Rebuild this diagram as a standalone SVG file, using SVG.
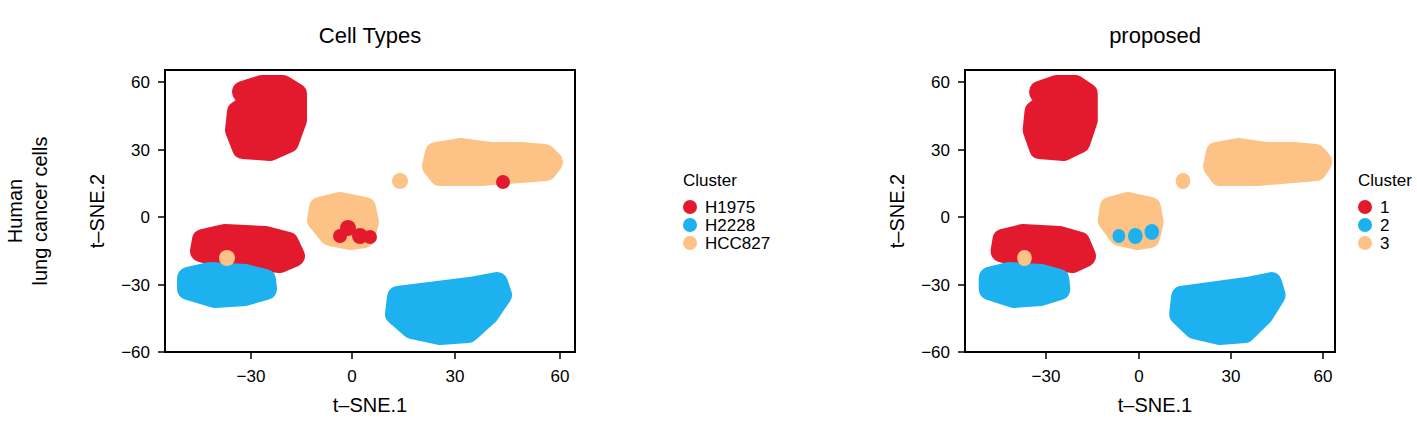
<svg xmlns="http://www.w3.org/2000/svg" xmlns:xlink="http://www.w3.org/1999/xlink" width="1417" height="423" viewBox="0 0 1417 423">
<style>
text{font-family:"Liberation Sans",Arial,sans-serif;fill:#000}
.t{font-size:22px;text-anchor:middle}
.k{font-size:17px}
.ax{font-size:20px;text-anchor:middle}
.box{fill:none;stroke:#000;stroke-width:2}
.tk{stroke:#000;stroke-width:1.5}
.r{fill:#E31A2E;stroke:#E31A2E;stroke-width:22;stroke-linejoin:round}
.b{fill:#1EB1F0;stroke:#1EB1F0;stroke-width:22;stroke-linejoin:round}
.o{fill:#FDC386;stroke:#FDC386;stroke-width:22;stroke-linejoin:round}
</style>
<defs>
<g id="base">
<polygon class="r" points="243,92 262,86 283,86 296,94 296,120 288,142 270,150 243,148 236,130 238,112 252,102"/>
<polygon class="o" points="436,153 460,149 490,153 520,153 545,155 552,162 546,170 520,172 480,175 440,175 433,166"/>
<circle cx="400" cy="181" r="8" fill="#FDC386"/>
<polygon class="o" points="320,208 340,203 365,208 368,222 364,237 350,239 330,235 318,220"/>
<polygon class="r" points="203,240 225,235 265,237 288,243 294,256 280,262 250,259 220,256 201,251"/>
<polygon class="b" points="188,278 210,273 245,275 265,280 266,289 245,295 215,297 188,289"/>
<circle cx="227" cy="258" r="8" fill="#FDC386"/>
<polygon class="b" points="398,297 430,293 470,288 497,283 501,295 488,314 468,332 440,334 412,328 396,314"/>
</g>
</defs>
<g id="panel1">
<use xlink:href="#base"/>
<circle cx="503" cy="182" r="7" fill="#E31A2E"/>
<circle cx="348" cy="228" r="8" fill="#E31A2E"/><circle cx="360" cy="236" r="8" fill="#E31A2E"/><circle cx="370" cy="237" r="7" fill="#E31A2E"/><circle cx="340" cy="236" r="7" fill="#E31A2E"/>
<rect class="box" x="165" y="70" width="410" height="282"/>
<g class="tk"><line x1="158" y1="82" x2="165" y2="82"/><line x1="158" y1="150" x2="165" y2="150"/><line x1="158" y1="217" x2="165" y2="217"/><line x1="158" y1="285" x2="165" y2="285"/><line x1="158" y1="352" x2="165" y2="352"/>
<line x1="251" y1="352" x2="251" y2="359"/><line x1="352" y1="352" x2="352" y2="359"/><line x1="455" y1="352" x2="455" y2="359"/><line x1="560" y1="352" x2="560" y2="359"/></g>
<g class="k" text-anchor="end"><text x="150" y="88">60</text><text x="150" y="156">30</text><text x="150" y="223">0</text><text x="150" y="291">−30</text><text x="150" y="358">−60</text></g>
<g class="k" text-anchor="middle"><text x="251" y="382">−30</text><text x="352" y="382">0</text><text x="455" y="382">30</text><text x="560" y="382">60</text></g>
<text class="t" x="370" y="43">Cell Types</text>
<text class="ax" x="370" y="412">t–SNE.1</text>
<text class="ax" transform="translate(104,211) rotate(-90)">t–SNE.2</text>
<text class="ax" transform="translate(22,211) rotate(-90)">Human</text>
<text class="ax" transform="translate(47,211) rotate(-90)">lung  cancer cells</text>
</g>
<g id="legend1">
<text class="k" x="683" y="186">Cluster</text>
<circle cx="690" cy="207" r="7" fill="#E31A2E"/><text class="k" x="705" y="213">H1975</text>
<circle cx="690" cy="225" r="7" fill="#1EB1F0"/><text class="k" x="705" y="231">H2228</text>
<circle cx="690" cy="243" r="7" fill="#FDC386"/><text class="k" x="705" y="249">HCC827</text>
</g>
<g id="panel2">
<g transform="translate(1139,0) scale(0.916,1) translate(-352,0)">
<use xlink:href="#base"/>
<circle cx="348" cy="236" r="8" fill="#1EB1F0"/><circle cx="366" cy="232" r="8" fill="#1EB1F0"/><circle cx="330" cy="236" r="7" fill="#1EB1F0"/>
</g>
<rect class="box" x="965" y="70" width="370" height="282"/>
<g class="tk"><line x1="958" y1="82" x2="965" y2="82"/><line x1="958" y1="150" x2="965" y2="150"/><line x1="958" y1="217" x2="965" y2="217"/><line x1="958" y1="285" x2="965" y2="285"/><line x1="958" y1="352" x2="965" y2="352"/>
<line x1="1046" y1="352" x2="1046" y2="359"/><line x1="1139" y1="352" x2="1139" y2="359"/><line x1="1231" y1="352" x2="1231" y2="359"/><line x1="1323" y1="352" x2="1323" y2="359"/></g>
<g class="k" text-anchor="end"><text x="950" y="88">60</text><text x="950" y="156">30</text><text x="950" y="223">0</text><text x="950" y="291">−30</text><text x="950" y="358">−60</text></g>
<g class="k" text-anchor="middle"><text x="1046" y="382">−30</text><text x="1139" y="382">0</text><text x="1231" y="382">30</text><text x="1323" y="382">60</text></g>
<text class="t" x="1155" y="43">proposed</text>
<text class="ax" x="1155" y="412">t–SNE.1</text>
<text class="ax" transform="translate(904,211) rotate(-90)">t–SNE.2</text>
</g>
<g id="legend2">
<text class="k" x="1358" y="186">Cluster</text>
<circle cx="1365" cy="207" r="7" fill="#E31A2E"/><text class="k" x="1380" y="213">1</text>
<circle cx="1365" cy="225" r="7" fill="#1EB1F0"/><text class="k" x="1380" y="231">2</text>
<circle cx="1365" cy="243" r="7" fill="#FDC386"/><text class="k" x="1380" y="249">3</text>
</g>
</svg>
